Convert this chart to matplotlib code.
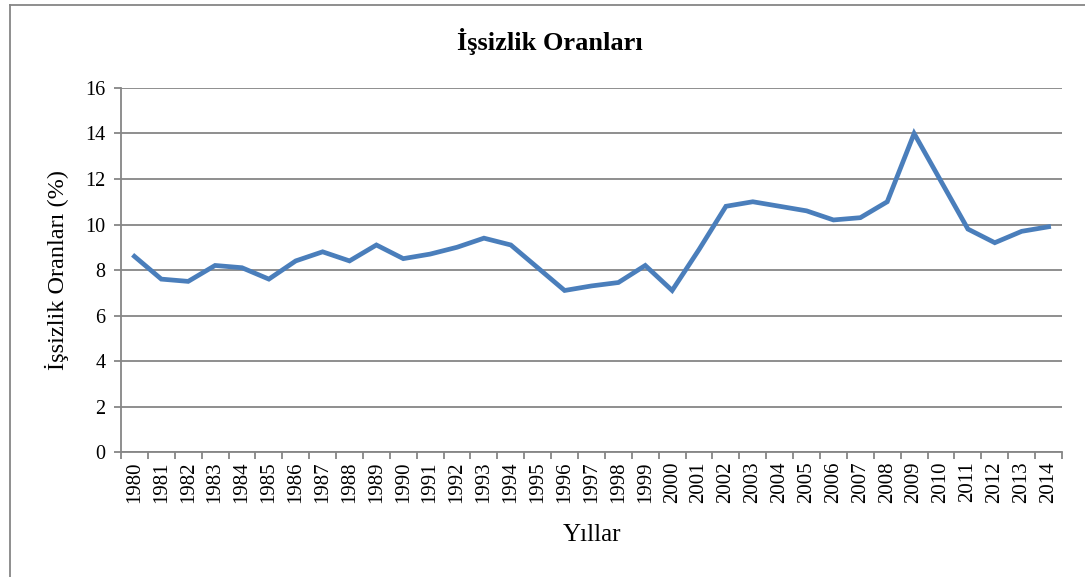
import matplotlib
matplotlib.use("Agg")
import matplotlib.pyplot as plt
from matplotlib.lines import Line2D
import numpy as np

# Yıllara göre işsizlik oranları (%)
years = [str(y) for y in range(1980, 2015)]
rates = [8.6, 7.6, 7.5, 8.2, 8.1, 7.6, 8.4, 8.8, 8.4, 9.1,
         8.5, 8.7, 9.0, 9.4, 9.1, 8.1, 7.1, 7.3, 7.45, 8.2,
         7.1, 8.9, 10.8, 11.0, 10.8, 10.6, 10.2, 10.3, 11.0, 14.0,
         11.9, 9.8, 9.2, 9.7, 9.9]
yticks = [0, 2, 4, 6, 8, 10, 12, 14, 16]

plt.rcParams['font.family'] = ['Liberation Serif', 'DejaVu Serif']

fig = plt.figure(figsize=(10.85, 5.77), dpi=100)
ax = fig.add_axes([0.1115, 0.2166, 0.8673, 0.6309])

x = np.arange(len(years))
ax.plot(x, rates, color='#4A7EBB', linewidth=3.4, solid_joinstyle='miter')

ax.set_xlim(-0.5, len(years) - 0.5)
ax.set_ylim(0, 16)
ax.set_yticks(yticks)
ax.set_yticklabels([str(t) for t in yticks], fontsize=14.5)
ax.yaxis.grid(True, color='#868686', linewidth=1.3)
ax.set_axisbelow(True)

# kategori etiketleri ortada, tik çizgileri sınırlarda
ax.set_xticks(np.arange(len(years) + 1) - 0.5)
ax.set_xticklabels([])
ax.set_xticks(x, minor=True)
ax.set_xticklabels(years, minor=True, rotation=90, fontsize=15)
ax.tick_params(axis='x', which='minor', length=0, pad=7)
ax.tick_params(axis='x', which='major', length=5, color='#868686', width=1.3)
ax.tick_params(axis='y', length=5, color='#868686', width=1.3, pad=6)

for s in ['top', 'right']:
    ax.spines[s].set_visible(False)
for s in ['left', 'bottom']:
    ax.spines[s].set_color('#868686')
    ax.spines[s].set_linewidth(1.3)

ax.set_xlabel('Yıllar', fontsize=18, labelpad=15)
ax.set_ylabel('İşsizlik Oranları (%)', fontsize=17.5, labelpad=12)
fig.text(0.507, 0.928, 'İşsizlik Oranları', ha='center', va='center',
         fontsize=19, fontweight='bold')

# grafik çerçevesi (üst ve sol kenar)
fig.add_artist(Line2D([0.009, 1.0], [0.992, 0.992], color='#868686', linewidth=1.3))
fig.add_artist(Line2D([0.009, 0.009], [0.0, 0.992], color='#868686', linewidth=1.3))

fig.savefig('out.png', dpi=100)
